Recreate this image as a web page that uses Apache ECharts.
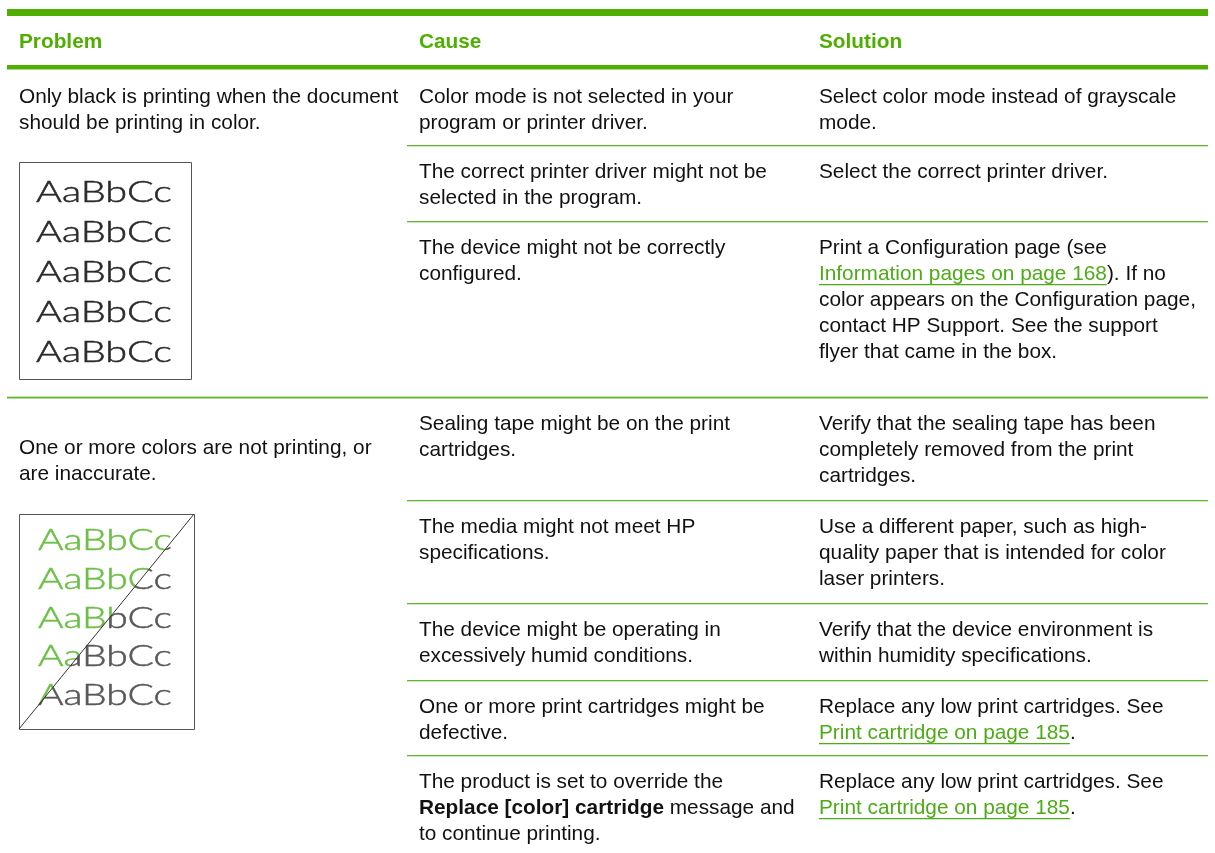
<!DOCTYPE html>
<html><head><meta charset="utf-8">
<script src="https://cdn.jsdelivr.net/npm/echarts@6/dist/echarts.min.js"></script>
<style>html,body{margin:0;padding:0;background:#fff}#c{width:1215px;height:853px}</style>
</head><body><div id="c"></div>
<script>
// ---------- DATA ----------
const headers = ['Problem', 'Cause', 'Solution'];
const problems = [
  ['Only black is printing when the document', 'should be printing in color.'],
  ['One or more colors are not printing, or', 'are inaccurate.']
];
const causes = [
  ['Color mode is not selected in your', 'program or printer driver.'],
  ['The correct printer driver might not be', 'selected in the program.'],
  ['The device might not be correctly', 'configured.'],
  ['Sealing tape might be on the print', 'cartridges.'],
  ['The media might not meet HP', 'specifications.'],
  ['The device might be operating in', 'excessively humid conditions.'],
  ['One or more print cartridges might be', 'defective.'],
  ['The product is set to override the', '**Replace [color] cartridge** message and', 'to continue printing.']
];
const solutions = [
  ['Select color mode instead of grayscale', 'mode.'],
  ['Select the correct printer driver.'],
  ['Print a Configuration page (see', '[[Information pages on page 168]]). If no', 'color appears on the Configuration page,', 'contact HP Support. See the support', 'flyer that came in the box.'],
  ['Verify that the sealing tape has been', 'completely removed from the print', 'cartridges.'],
  ['Use a different paper, such as high-', 'quality paper that is intended for color', 'laser printers.'],
  ['Verify that the device environment is', 'within humidity specifications.'],
  ['Replace any low print cartridges. See', '[[Print cartridge on page 185]].'],
  ['Replace any low print cartridges. See', '[[Print cartridge on page 185]].']
];
const rowGroup = [0, 0, 0, 1, 1, 1, 1, 1];
const sampleLines = ['AaBbCc', 'AaBbCc', 'AaBbCc', 'AaBbCc', 'AaBbCc'];

// ---------- LAYOUT / STYLE ----------
const L = {
  left: 7, right: 1208,
  colX: [19, 419, 819],
  innerLineX: 407,
  topBar: { y: 9, h: 7 },
  headerCy: 42,
  headerLine: { y: 65, h: 4 },
  rowTops: [70, 145, 221, 397, 500, 603, 680, 755],
  rowTextOffset: 27,
  groupDividerY: 397,
  problemFirstCy: [97, 448],
  lineH: 26,
  family: '"Liberation Sans", Arial, Helvetica, sans-serif',
  fs: 20.8,
  boxes: [
    { x: 19, y: 162, w: 172, h: 217, textX: 36, textW: 136, firstCy: 193, step: 40 },
    { x: 19, y: 514, w: 175, h: 215, textX: 38, textW: 134, firstCy: 541, step: 38.6 }
  ],
  sampleFamily: 'Lato, "DejaVu Sans", sans-serif',
  sampleWeight: 300,
  sampleFs: 29,
  sampleStroke: 0.5
};
const C = {
  green: '#4fae00',
  greenLight: '#a9d88a',
  rule: '#62b632',
  ruleLight: '#c9e8b5',
  link: '#4dab16',
  text: '#111111',
  sampleDark: '#2a2a2a',
  sampleGray: '#585858',
  sampleGreen: '#6cc046',
  boxBorder: '#555555'
};

// ---------- BUILD ----------
const mctx = document.createElement('canvas').getContext('2d');
function fontStr(w, size, fam) { return w + ' ' + size + 'px ' + fam; }
function measure(t, f) { mctx.font = f; return mctx.measureText(t).width; }

const els = [];
function rect(x, y, w, h, fill) {
  els.push({ type: 'rect', shape: { x: x, y: y, width: w, height: h }, style: { fill: fill }, silent: true });
}
function drawLine(str, x, cy) {
  const parts = str.split(/(\*\*[^*]+\*\*|\[\[[^\]]+\]\])/).filter(p => p.length);
  let cx = x;
  parts.forEach(p => {
    let t = p, weight = 'normal', fill = C.text, link = false;
    if (p.startsWith('**')) { t = p.slice(2, -2); weight = 'bold'; }
    else if (p.startsWith('[[')) { t = p.slice(2, -2); fill = C.link; link = true; }
    const f = fontStr(weight, L.fs, L.family);
    const w = measure(t, f);
    els.push({ type: 'text', x: cx, y: cy, silent: true,
      style: { text: t, font: f, fill: fill, textAlign: 'left', verticalAlign: 'middle' } });
    if (link) rect(cx, cy + 10, w, 1.2, C.link);
    cx += w;
  });
}
function drawCell(lines, x, firstCy) {
  lines.forEach((s, i) => drawLine(s, x, firstCy + i * L.lineH));
}

// bars
rect(L.left, L.topBar.y, L.right - L.left, L.topBar.h, C.green);
rect(L.left, L.headerLine.y, L.right - L.left, L.headerLine.h, C.green);
rect(L.left, L.headerLine.y + L.headerLine.h, L.right - L.left, 1, C.greenLight);

// headers
headers.forEach((h, i) => {
  els.push({ type: 'text', x: L.colX[i], y: L.headerCy, silent: true,
    style: { text: h, font: fontStr('bold', L.fs, L.family), fill: C.green, textAlign: 'left', verticalAlign: 'middle' } });
});

// row rules
L.rowTops.forEach((y, i) => {
  if (i === 0) return;
  if (y === L.groupDividerY) {
    rect(L.left, y - 1, L.right - L.left, 1, C.ruleLight);
    rect(L.left, y, L.right - L.left, 1.5, C.rule);
  } else {
    rect(L.innerLineX, y, L.right - L.innerLineX, 1.2, C.rule);
    rect(L.innerLineX, y + 1.2, L.right - L.innerLineX, 0.8, C.ruleLight);
  }
});

// problems
problems.forEach((p, g) => drawCell(p, L.colX[0], L.problemFirstCy[g]));
// causes & solutions
causes.forEach((c, r) => drawCell(c, L.colX[1], L.rowTops[r] + L.rowTextOffset));
solutions.forEach((s, r) => drawCell(s, L.colX[2], L.rowTops[r] + L.rowTextOffset));

// sample boxes (frames + plain sample text for box 1)
const sf = fontStr(L.sampleWeight, L.sampleFs, L.sampleFamily);
function sampleTextOpt(b, i, t, color) {
  const cy = b.firstCy + i * b.step;
  const s = b.textW / measure(t, sf);
  return { x: b.textX, y: cy, scaleX: s,
    style: { text: t, font: sf, fill: color, stroke: color, lineWidth: L.sampleStroke } };
}
L.boxes.forEach((b, bi) => {
  els.push({ type: 'rect', shape: { x: b.x + 0.5, y: b.y + 0.5, width: b.w, height: b.h },
    style: { fill: 'none', stroke: C.boxBorder, lineWidth: 1 }, silent: true });
  if (bi === 0) {
    sampleLines.forEach((t, i) => {
      const o = sampleTextOpt(b, i, t, C.sampleDark);
      o.style.textAlign = 'left'; o.style.verticalAlign = 'middle';
      els.push(Object.assign({ type: 'text', silent: true }, o));
    });
  }
});

const chart = echarts.init(document.getElementById('c'), null, { renderer: 'canvas' });
chart.setOption({ animation: false, backgroundColor: '#fff', graphic: { elements: els } });

// box 2: text split in colour along the diagonal, using clip paths
(function () {
  const zr = chart.getZr();
  const b = L.boxes[1];
  const A = [b.x, b.y + b.h], B = [b.x + b.w, b.y];
  const d = [B[0] - A[0], B[1] - A[1]];
  const A2 = [A[0] - d[0], A[1] - d[1]], B2 = [B[0] + d[0], B[1] + d[1]];
  const regions = [
    { pts: [A2, B2, [A2[0], B2[1]]], color: C.sampleGreen },
    { pts: [A2, B2, [B2[0], A2[1]]], color: C.sampleGray }
  ];
  regions.forEach(rg => {
    const g = new echarts.graphic.Group();
    g.setClipPath(new echarts.graphic.Polygon({ shape: { points: rg.pts } }));
    sampleLines.forEach((t, i) => {
      const o = sampleTextOpt(b, i, t, rg.color);
      o.style.align = 'left'; o.style.verticalAlign = 'middle';
      o.silent = true; o.z = 10;
      g.add(new echarts.graphic.Text(o));
    });
    zr.add(g);
  });
  zr.add(new echarts.graphic.Line({ shape: { x1: A[0], y1: A[1], x2: B[0], y2: B[1] },
    style: { stroke: '#333', lineWidth: 1 }, z: 20, silent: true }));
})();
</script>
</body></html>
